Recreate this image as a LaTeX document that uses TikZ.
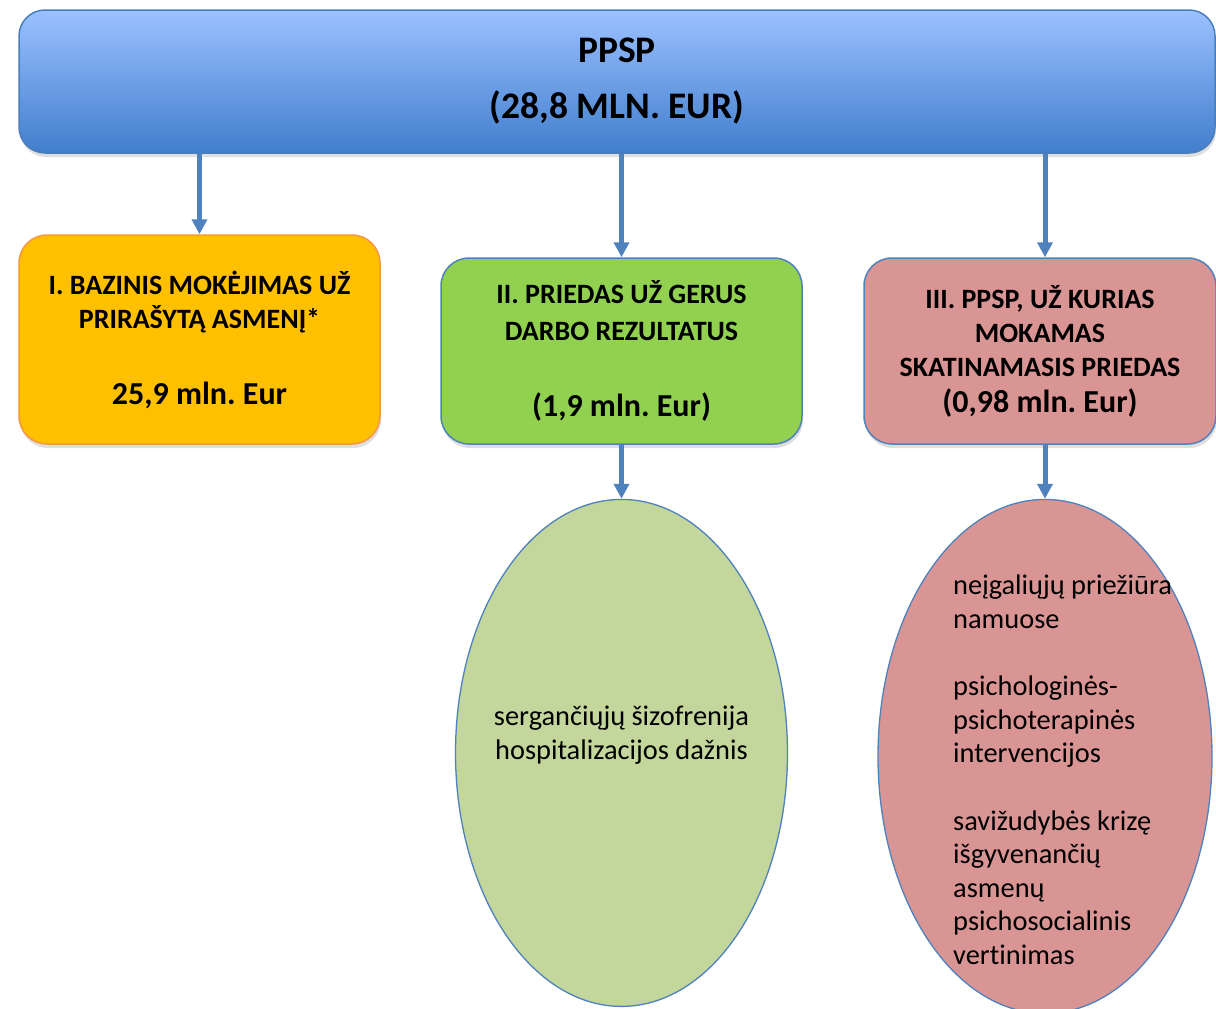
\documentclass[tikz,border=0pt]{standalone}
\usepackage{fontspec}
\setmainfont{Carlito}[Ligatures=NoCommon]
\frenchspacing
\usetikzlibrary{arrows.meta,shapes.geometric,shadows,positioning}
\definecolor{skytop}{HTML}{9BC1FF}
\definecolor{skybottom}{HTML}{417ECD}
\definecolor{skyline}{HTML}{4A7EBB}
\definecolor{linkblue}{HTML}{4F81BD}
\definecolor{gold}{HTML}{FFC000}
\definecolor{goldline}{HTML}{F79646}
\definecolor{leaf}{HTML}{92D050}
\definecolor{rose}{HTML}{D99594}
\definecolor{sage}{HTML}{C3D69B}
\newcommand{\amount}[1]{{\fontsize{32}{34}\selectfont #1}}
\tikzstyle{banner}=[draw=skyline, line width=1.5pt, rounded corners=26pt,
  top color=skytop, bottom color=skybottom, minimum width=1196pt,
  minimum height=143pt, align=center,
  font=\fontsize{37.5}{56}\selectfont\bfseries,
  drop shadow={opacity=.25, shadow xshift=1pt, shadow yshift=-4pt}]
\tikzstyle{panel}=[draw=linkblue, line width=1.5pt, rounded corners=28pt,
  minimum height=186pt, align=center,
  font=\fontsize{28}{34}\selectfont\bfseries,
  drop shadow={opacity=.25, shadow xshift=1pt, shadow yshift=-4pt}]
\tikzstyle{oval}=[draw=linkblue, line width=1.3pt, ellipse, inner sep=0pt]
\tikzstyle{note}=[inner sep=0pt, font=\fontsize{28.4}{33.6}\selectfont]
\tikzstyle{link}=[-{Triangle[width=15pt,length=15pt]}, linkblue, line width=5pt]

\begin{document}
\begin{tikzpicture}[x=1pt, y=-1pt]
  \useasboundingbox (0,0) rectangle (1216,1009);
  \node[banner] (top) at (617,81.5) {PPSP\\(28,8 MLN. EUR)};

  \node[panel, fill=gold, draw=goldline, minimum width=361pt,
    minimum height=209pt] (base) at (199.5,339.5)
    {I. BAZINIS MOKĖJIMAS UŽ\\PRIRAŠYTĄ ASMENĮ*\\[42pt]\amount{25,9 mln. Eur}};
  \node[panel, fill=leaf, minimum width=361pt] (bonus) at (621.5,351)
    {II. PRIEDAS UŽ GERUS\\[3pt]DARBO REZULTATUS\\[42pt]\amount{(1,9 mln. Eur)}};
  \node[panel, fill=rose, minimum width=352pt] (extra) at (1040,351)
    {III. PPSP, UŽ KURIAS\\MOKAMAS\\SKATINAMASIS PRIEDAS\\[2pt]\amount{(0,98 mln. Eur)}};

  \node[oval, fill=sage, minimum width=332pt, minimum height=507pt,
    below=54pt of bonus] (rate) {};
  \node[oval, fill=rose, minimum width=334pt, minimum height=514pt,
    below=54pt of extra, xshift=5pt] (care) {};

  \node[note, align=center] (ratetext) at ([yshift=18pt]rate.center)
    {sergančiųjų šizofrenija\\hospitalizacijos dažnis};
  \node[note, align=left, anchor=west] (caretext)
    at ([xshift=-92pt, yshift=-13.5pt]care.center)
    {neįgaliųjų priežiūra\\namuose\\[33.6pt]
     psichologinės-\\psichoterapinės\\intervencijos\\[33.6pt]
     savižudybės krizę\\išgyvenančių\\asmenų\\psichosocialinis\\vertinimas};

  \draw[link] (base.north |- top.south) -- (base.north);
  \draw[link] (bonus.north |- top.south) -- (bonus.north);
  \draw[link] (care.north |- top.south) -- (care.north |- extra.north);
  \draw[link] (bonus.south) -- (rate.north);
  \draw[link] (care.north |- extra.south) -- (care.north);
\end{tikzpicture}
\end{document}
